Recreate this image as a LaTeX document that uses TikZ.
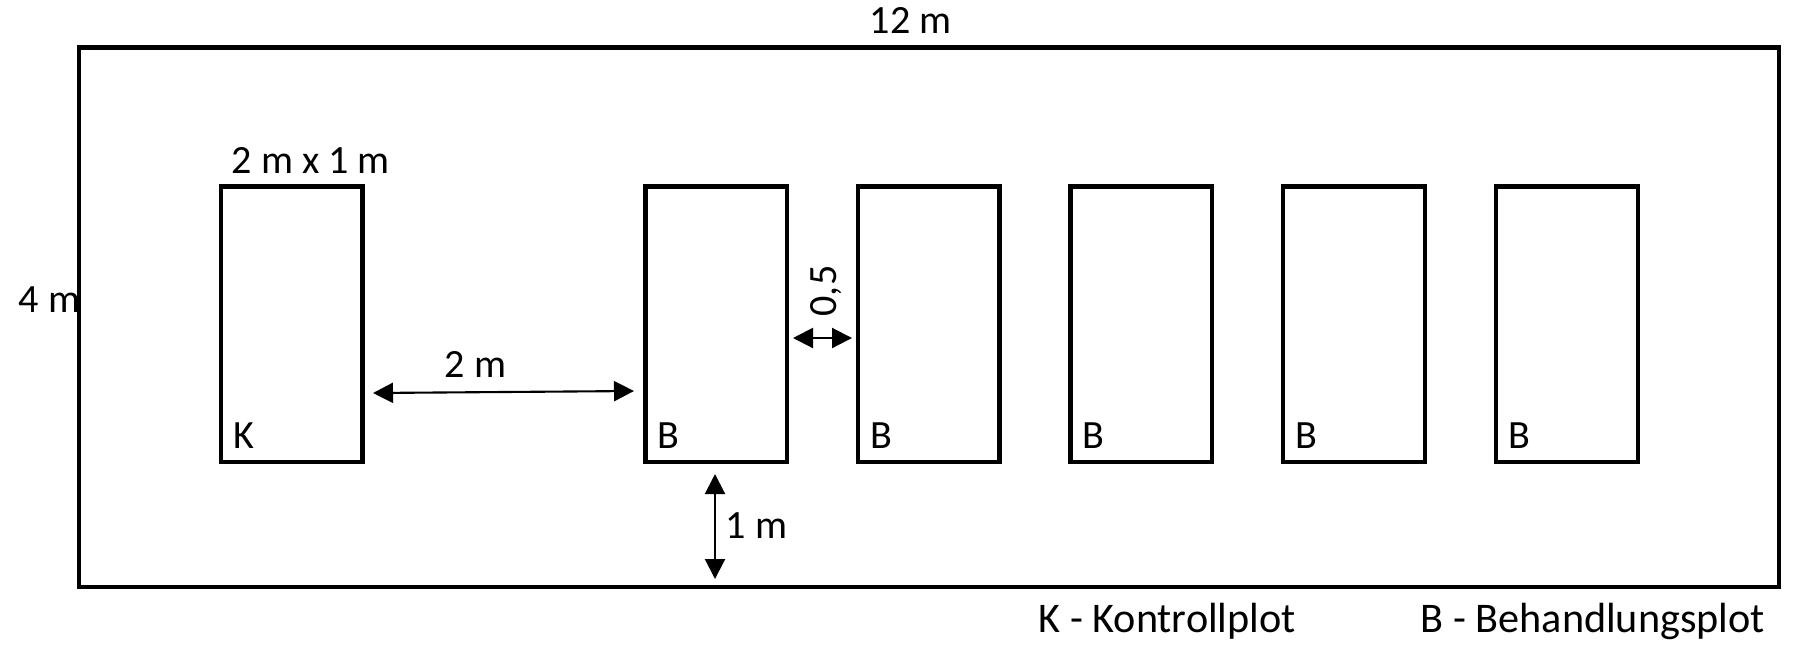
\documentclass[tikz,border=0pt]{standalone}
\usepackage{fontspec}
\setmainfont{Carlito}
\usetikzlibrary{arrows.meta}
\begin{document}
\begin{tikzpicture}[x=0.01cm,y=-0.01cm,
  every node/.style={font=\fontsize{11.4}{13.7}\selectfont},
  field/.style={draw,line width=1.2pt,inner sep=0pt,outer sep=0pt,minimum width=16.99cm,minimum height=5.39cm,anchor=north west},
  plotbox/.style={draw,line width=1.2pt,inner sep=0pt,outer sep=0pt,minimum width=1.415cm,minimum height=2.75cm,anchor=north west},
  lbl/.style={inner sep=0pt,anchor=base west},
  leg/.style={inner sep=0pt,anchor=base west,font=\fontsize{12}{14.4}\selectfont},
  dim/.style={line width=0.6pt,{Triangle[length=0.2cm,width=0.2cm]}-{Triangle[length=0.2cm,width=0.2cm]}}]
\useasboundingbox (0,0) rectangle (1795,645);
% field
\node[field] (field) at (79,47.5) {};
% plots
\node[plotbox] (k) at (221,186.5) {};
\node[plotbox] (b1) at (645.5,186.5) {};
\node[plotbox] (b2) at (858,186.5) {};
\node[plotbox] (b3) at (1070.5,186.5) {};
\node[plotbox] (b4) at (1283,186.5) {};
\node[plotbox] (b5) at (1496,186.5) {};
% labels in plots
\node[lbl] (lk) at (233,448) {K};
\node[lbl] (lb1) at (657,448) {B};
\node[lbl] (lb2) at (869.5,448) {B};
\node[lbl] (lb3) at (1082,448) {B};
\node[lbl] (lb4) at (1294.5,448) {B};
\node[lbl] (lb5) at (1507.5,448) {B};
% dimension texts
\node[lbl] (t12) at (869,33) {12 m};
\node[lbl] (t4) at (18,312.5) {4 m};
\node[lbl] (tsize) at (231,173) {2 m x 1 m};
\node[lbl] (t2) at (444,377) {2 m};
\node[lbl] (t1) at (725,538) {1 m};
\node[inner sep=0pt,rotate=90] (t05) at (826,291) {0,5};
% dimension arrows
\coordinate (h1) at (373,393);
\coordinate (h2) at (634,391);
\coordinate (s1) at (793,338);
\coordinate (s2) at (852,338);
\coordinate (v1) at (715,474);
\coordinate (v2) at (715,579);
\draw[dim] (h1) -- (h2);
\draw[dim] (s1) -- (s2);
\draw[dim] (v1) -- (v2);
% legend
\node[leg] (legk) at (1038,632) {K - Kontrollplot};
\node[leg] (legb) at (1420,632) {B - Behandlungsplot};
\end{tikzpicture}
\end{document}
